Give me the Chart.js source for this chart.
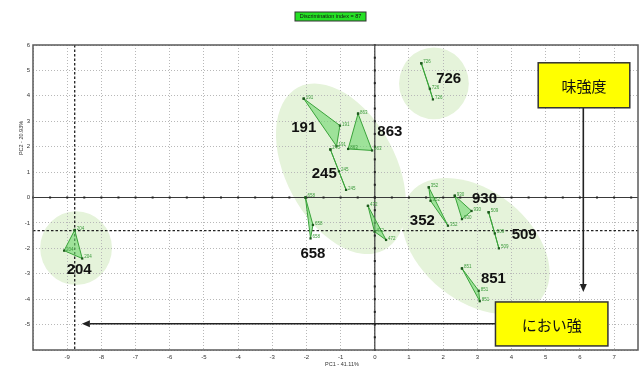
<!DOCTYPE html>
<html>
<head>
<meta charset="utf-8">
<script src="https://cdn.jsdelivr.net/npm/chart.js@4/dist/chart.umd.min.js"></script>
<style>
  html, body { margin: 0; padding: 0; background: #fff; overflow: hidden; }
  #wrap { width: 642px; height: 367px; position: relative; }
  #pca { display: block; }
</style>
</head>
<body>
<div id="wrap"><canvas id="pca"></canvas></div>
<script>
// Sample groups (three replicate measurements each) and their PCA scores
const groups = ['191', '863', '245', '658', '472', '204', '726', '352', '930', '509', '851'];
const pc1 = [
  [-2.08, -1.02, -1.12],
  [-0.49, -0.78, -0.08],
  [-1.30, -1.05, -0.84],
  [-2.03, -1.81, -1.88],
  [-0.20, -0.01, 0.33],
  [-8.78, -9.09, -8.56],
  [1.36, 1.61, 1.70],
  [1.58, 1.63, 2.14],
  [2.34, 2.83, 2.55],
  [3.33, 3.51, 3.63],
  [2.55, 3.04, 3.07]
];
const pc2 = [
  [3.89, 2.83, 2.02],
  [3.30, 1.91, 1.85],
  [1.89, 1.03, 0.30],
  [0.00, -1.08, -1.61],
  [-0.33, -1.34, -1.67],
  [-1.28, -2.09, -2.40],
  [5.28, 4.28, 3.86],
  [0.40, -0.13, -1.11],
  [0.07, -0.53, -0.85],
  [-0.58, -1.41, -2.00],
  [-2.79, -3.67, -4.08]
];

// Groups that carry a large name tag, and where the tag sits (PC units)
const taggedGroups = ['191', '863', '245', '658', '204', '726', '352', '930', '509', '851'];
const tagX = [-2.08, 0.44, -1.48, -1.81, -8.65, 2.16, 1.39, 3.21, 4.37, 3.47];
const tagY = [2.79, 2.63, 0.98, -2.17, -2.82, 4.69, -0.88, -0.02, -1.43, -3.15];

// Cluster ellipses: centre, semi-axes (PC1 units) and tilt in degrees
const clusterCx = [-0.99, 1.73, -8.74, 2.95];
const clusterCy = [1.13, 4.49, -1.99, -1.91];
const clusterA = [2.69, 1.02, 1.05, 2.46];
const clusterB = [1.61, 1.05, 1.08, 1.61];
const clusterTilt = [62, 0, 0, 39];

// Axis ranges and the crosshair through sample 204
const pc1Range = [-10, 7.7];
const pc2Range = [-6, 6];
const crossPC1 = -8.78;
const crossPC2 = -1.3;

// Direction annotations
const tasteLabel = '味強度';
const odorLabel = 'におい強';
const tasteBox = [4.78, 7.46, 5.30, 3.53];   // x1, x2, y1, y2
const odorBox = [3.53, 6.82, -4.11, -5.84];
const tasteArrow = [6.1, 3.53, 6.1, -3.72];  // from x,y to x,y
const odorArrow = [3.53, -4.97, -8.57, -4.97];

const titleText = 'Discrimination index = 87';
const xTitle = 'PC1 - 41.11%';
const yTitle = 'PC2 - 20.93%';

const datasets = groups.map((g, i) => {
  const pts = pc1[i].map((x, k) => ({ x, y: pc2[i][k] }));
  pts.push({ x: pc1[i][0], y: pc2[i][0] });
  return {
    label: g,
    data: pts,
    showLine: true,
    fill: 'shape',
    backgroundColor: 'rgba(110,215,110,0.6)',
    borderColor: '#3aa33a',
    borderWidth: 1,
    pointStyle: 'rect',
    pointRadius: 1.6,
    pointBackgroundColor: '#1d5a1d',
    pointBorderColor: '#1d5a1d',
    pointBorderWidth: 0,
    tension: 0
  };
});

const ellipsePlugin = {
  id: 'clusters',
  beforeDraw(chart) {
    const { ctx, scales: { x, y } } = chart;
    const ux = x.getPixelForValue(1) - x.getPixelForValue(0);
    ctx.save();
    ctx.fillStyle = '#e5f3da';
    for (let i = 0; i < clusterCx.length; i++) {
      ctx.beginPath();
      ctx.ellipse(x.getPixelForValue(clusterCx[i]), y.getPixelForValue(clusterCy[i]),
        clusterA[i] * ux, clusterB[i] * ux, clusterTilt[i] * Math.PI / 180, 0, Math.PI * 2);
      ctx.fill();
    }
    ctx.restore();
  }
};

const guidePlugin = {
  id: 'guides',
  beforeDatasetsDraw(chart) {
    const { ctx, chartArea: a, scales: { x, y } } = chart;
    ctx.save();
    // zero axes
    ctx.strokeStyle = '#3a3a3a';
    ctx.lineWidth = 1.2;
    const x0 = x.getPixelForValue(0), y0 = y.getPixelForValue(0);
    ctx.beginPath();
    ctx.moveTo(a.left, y0); ctx.lineTo(a.right, y0);
    ctx.moveTo(x0, a.top); ctx.lineTo(x0, a.bottom);
    ctx.stroke();
    ctx.fillStyle = '#222';
    for (let v = pc1Range[0]; v <= pc1Range[1]; v += 0.5) {
      ctx.fillRect(x.getPixelForValue(v) - 1, y0 - 1, 2, 2);
    }
    for (let v = pc2Range[0]; v <= pc2Range[1]; v += 0.5) {
      ctx.fillRect(x0 - 1, y.getPixelForValue(v) - 1, 2, 2);
    }
    // crosshair
    ctx.setLineDash([2.5, 2]);
    ctx.lineWidth = 1.3;
    ctx.strokeStyle = '#222';
    const cx = x.getPixelForValue(crossPC1), cy = y.getPixelForValue(crossPC2);
    ctx.beginPath();
    ctx.moveTo(cx, a.top); ctx.lineTo(cx, a.bottom);
    ctx.moveTo(a.left, cy); ctx.lineTo(a.right, cy);
    ctx.stroke();
    ctx.setLineDash([]);
    // frame
    ctx.strokeStyle = '#5a5a5a';
    ctx.lineWidth = 1.5;
    ctx.strokeRect(a.left, a.top, a.right - a.left, a.bottom - a.top);
    ctx.restore();
  }
};

function arrow(ctx, x1, y1, x2, y2) {
  const ang = Math.atan2(y2 - y1, x2 - x1);
  const len = 8, half = 3.5;
  const bx = x2 - len * Math.cos(ang), by = y2 - len * Math.sin(ang);
  ctx.beginPath();
  ctx.moveTo(x1, y1); ctx.lineTo(bx, by);
  ctx.stroke();
  ctx.beginPath();
  ctx.moveTo(x2, y2);
  ctx.lineTo(bx + half * Math.sin(ang), by - half * Math.cos(ang));
  ctx.lineTo(bx - half * Math.sin(ang), by + half * Math.cos(ang));
  ctx.closePath();
  ctx.fill();
}

function labelBox(ctx, x, y, box, text) {
  const l = x.getPixelForValue(box[0]), r = x.getPixelForValue(box[1]);
  const t = y.getPixelForValue(box[2]), b = y.getPixelForValue(box[3]);
  ctx.fillStyle = '#ffff00';
  ctx.fillRect(l, t, r - l, b - t);
  ctx.strokeStyle = '#333';
  ctx.lineWidth = 1.5;
  ctx.strokeRect(l, t, r - l, b - t);
  ctx.fillStyle = '#111';
  ctx.font = '15px "Noto Sans CJK JP"';
  ctx.textAlign = 'center';
  ctx.textBaseline = 'middle';
  ctx.fillText(text, (l + r) / 2, (t + b) / 2 + 1);
}

const annotationPlugin = {
  id: 'annotations',
  afterDatasetsDraw(chart) {
    const { ctx, scales: { x, y } } = chart;
    ctx.save();
    // replicate tags next to each point
    ctx.font = '4.5px "Liberation Sans"';
    ctx.fillStyle = '#3b9a3b';
    ctx.textAlign = 'left';
    ctx.textBaseline = 'bottom';
    groups.forEach((g, i) => {
      pc1[i].forEach((v, k) => {
        ctx.fillText(g, x.getPixelForValue(v) + 2, y.getPixelForValue(pc2[i][k]) + 1);
      });
    });
    // group name tags
    ctx.font = 'bold 15px "Liberation Sans"';
    ctx.fillStyle = '#111';
    ctx.textAlign = 'center';
    ctx.textBaseline = 'middle';
    taggedGroups.forEach((g, i) => {
      ctx.fillText(g, x.getPixelForValue(tagX[i]), y.getPixelForValue(tagY[i]) + 1);
    });
    // direction arrows
    ctx.strokeStyle = '#222';
    ctx.fillStyle = '#222';
    ctx.lineWidth = 1.6;
    arrow(ctx, x.getPixelForValue(tasteArrow[0]), y.getPixelForValue(tasteArrow[1]),
      x.getPixelForValue(tasteArrow[2]), y.getPixelForValue(tasteArrow[3]));
    arrow(ctx, x.getPixelForValue(odorArrow[0]), y.getPixelForValue(odorArrow[1]),
      x.getPixelForValue(odorArrow[2]), y.getPixelForValue(odorArrow[3]));
    labelBox(ctx, x, y, tasteBox, tasteLabel);
    labelBox(ctx, x, y, odorBox, odorLabel);
    ctx.restore();
  },
  afterDraw(chart) {
    const { ctx } = chart;
    ctx.save();
    // discrimination index badge
    ctx.fillStyle = '#25e025';
    ctx.fillRect(295, 12, 71, 9);
    ctx.strokeStyle = '#333';
    ctx.lineWidth = 1;
    ctx.strokeRect(295, 12, 71, 9);
    ctx.fillStyle = '#111';
    ctx.font = '5.5px "Liberation Sans"';
    ctx.textAlign = 'center';
    ctx.textBaseline = 'middle';
    ctx.fillText(titleText, 330.5, 16.8);
    // axis titles
    ctx.fillStyle = '#333';
    ctx.fillText(xTitle, 342, 364);
    ctx.translate(21, 138);
    ctx.rotate(-Math.PI / 2);
    ctx.fillText(yTitle, 0, 0);
    ctx.restore();
  }
};

const tickFont = { family: 'Liberation Sans', size: 6 };

new Chart(document.getElementById('pca'), {
  type: 'scatter',
  data: { datasets },
  options: {
    responsive: true,
    maintainAspectRatio: false,
    animation: false,
    devicePixelRatio: 1,
    layout: { padding: { top: 45, right: 0, left: 0, bottom: 0 } },
    plugins: { legend: { display: false }, tooltip: { enabled: false } },
    scales: {
      x: {
        type: 'linear',
        min: pc1Range[0], max: pc1Range[1],
        afterBuildTicks(s) { s.ticks = s.ticks.filter(t => Number.isInteger(t.value)); },
        afterFit(s) { s.height = 17; },
        ticks: {
          stepSize: 1, color: '#333', font: tickFont, padding: 0,
          callback: v => (v === pc1Range[0] ? '' : v)
        },
        grid: { color: '#b8b8b8', lineWidth: 1, drawTicks: true, tickLength: 4, tickColor: 'rgba(0,0,0,0)' },
        border: { display: false, dash: [1, 2] }
      },
      y: {
        type: 'linear',
        min: pc2Range[0], max: pc2Range[1],
        afterFit(s) { s.width = 33; },
        ticks: {
          stepSize: 1, color: '#333', font: tickFont, padding: 0,
          callback: v => (v === pc2Range[0] ? '' : v)
        },
        grid: { color: '#b8b8b8', lineWidth: 1, drawTicks: true, tickLength: 3, tickColor: 'rgba(0,0,0,0)' },
        border: { display: false, dash: [1, 2] }
      }
    }
  },
  plugins: [ellipsePlugin, guidePlugin, annotationPlugin]
});
</script>
</body>
</html>
